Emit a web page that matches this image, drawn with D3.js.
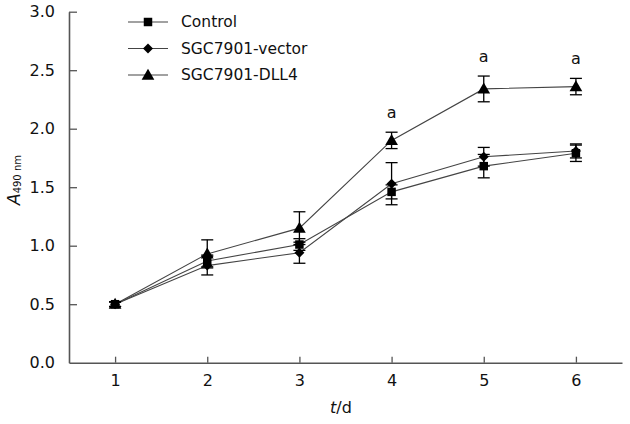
<!DOCTYPE html>
<html>
<head>
<meta charset="utf-8">
<script src="https://cdn.jsdelivr.net/npm/d3@7"></script>
<style>
  html, body { margin: 0; padding: 0; background: #fff; }
  svg { display: block; font-family: "DejaVu Sans", Verdana, sans-serif; }
</style>
</head>
<body>
<div id="chart"></div>
<script>
const days = [1, 2, 3, 4, 5, 6];
const seriesNames = ["Control", "SGC7901-vector", "SGC7901-DLL4"];
const controlMean = [0.50, 0.87, 1.01, 1.46, 1.68, 1.79];
const controlErr  = [0.02, 0.05, 0.05, 0.06, 0.10, 0.07];
const vectorMean  = [0.50, 0.83, 0.94, 1.53, 1.76, 1.81];
const vectorErr   = [0.02, 0.08, 0.09, 0.18, 0.08, 0.06];
const dll4Mean    = [0.50, 0.93, 1.15, 1.90, 2.34, 2.36];
const dll4Err     = [0.02, 0.12, 0.14, 0.07, 0.11, 0.07];
const sigDays = [4, 5, 6];
const yTicks = [0, 0.5, 1.0, 1.5, 2.0, 2.5, 3.0];

const W = 630, H = 424;
const svg = d3.select("#chart").append("svg").attr("width", W).attr("height", H);

const x = d3.scaleLinear().domain([0.5, 6.5]).range([69, 622]);
const y = d3.scaleLinear().domain([0, 3]).range([362.7, 11.7]);

const series = [
  { name: seriesNames[0], mean: controlMean, err: controlErr, sym: d3.symbolSquare, size: 72, rot: 0, dy: 0 },
  { name: seriesNames[1], mean: vectorMean, err: vectorErr, sym: d3.symbolSquare, size: 50, rot: 45, dy: 0 },
  { name: seriesNames[2], mean: dll4Mean, err: dll4Err, sym: d3.symbolTriangle, size: 70, rot: 0, dy: 1 }
];

const axisColor = "#555";

// axes
const xAxis = d3.axisBottom(x).tickValues(days).tickFormat(d3.format("d")).tickSizeInner(-6).tickSizeOuter(0).tickPadding(12);
const gx = svg.append("g").attr("transform", `translate(0,${y(0)})`).call(xAxis);
const yAxis = d3.axisLeft(y).tickValues(yTicks).tickFormat(d3.format(".1f")).tickSizeInner(-8).tickSizeOuter(0).tickPadding(14);
const gy = svg.append("g").attr("transform", `translate(${x(0.5)},0)`).call(yAxis);
[gx, gy].forEach(g => {
  g.select(".domain").attr("stroke", axisColor).attr("stroke-width", 1.6);
  g.selectAll(".tick line").attr("stroke", axisColor).attr("stroke-width", 1.3);
  g.selectAll(".tick text").attr("fill", "#111").style("font-size", "16px").style("font-family", "DejaVu Sans, Verdana, sans-serif");
});
gy.selectAll(".tick").filter(d => d === 0).select("line").remove();
gx.selectAll(".tick text").attr("dy", "0.71em");

// axis titles
const xt = svg.append("text").attr("x", 341).attr("y", 413).attr("text-anchor", "middle")
  .style("font-size", "16px").attr("fill", "#111");
xt.append("tspan").style("font-style", "italic").text("t");
xt.append("tspan").text("/d");

const yt = svg.append("text").attr("transform", "translate(20,180) rotate(-90)").attr("text-anchor", "middle")
  .attr("fill", "#111");
yt.append("tspan").style("font-style", "italic").style("font-size", "17px").text("A");
yt.append("tspan").style("font-size", "10px").attr("dy", "1").text("490 nm");

// lines
const line = d3.line().x((d, i) => x(days[i])).y(d => y(d));
series.forEach(s => {
  svg.append("path").datum(s.mean).attr("d", line)
    .attr("fill", "none").attr("stroke", "#444").attr("stroke-width", 1.1);
});

// error bars and markers
const cap = 6;
series.forEach(s => {
  const g = svg.append("g");
  s.mean.forEach((m, i) => {
    const cx = x(days[i]);
    const top = y(m + s.err[i]), bot = y(m - s.err[i]);
    g.append("line").attr("x1", cx).attr("x2", cx).attr("y1", top).attr("y2", bot).attr("stroke", "#000").attr("stroke-width", 1.3);
    g.append("line").attr("x1", cx - cap).attr("x2", cx + cap).attr("y1", top).attr("y2", top).attr("stroke", "#000").attr("stroke-width", 1.3);
    g.append("line").attr("x1", cx - cap).attr("x2", cx + cap).attr("y1", bot).attr("y2", bot).attr("stroke", "#000").attr("stroke-width", 1.3);
  });
});
series.forEach(s => {
  svg.append("g").selectAll("path").data(s.mean).join("path")
    .attr("transform", (d, i) => `translate(${x(days[i])},${y(d) + s.dy}) rotate(${s.rot})`)
    .attr("d", d3.symbol().type(s.sym).size(s.size))
    .attr("fill", "#000");
});

// significance annotations
sigDays.forEach(dy => {
  const i = days.indexOf(dy);
  svg.append("text").attr("x", x(dy)).attr("y", y(dll4Mean[i] + dll4Err[i]) - 14)
    .attr("text-anchor", "middle").style("font-size", "16px").attr("fill", "#111").text("a");
});

// legend
const legend = svg.append("g");
series.forEach((s, i) => {
  const ly = 22 + i * 26.5;
  legend.append("line").attr("x1", 128).attr("x2", 168).attr("y1", ly).attr("y2", ly)
    .attr("stroke", "#444").attr("stroke-width", 1.1);
  legend.append("path").attr("transform", `translate(148,${ly + s.dy}) rotate(${s.rot})`)
    .attr("d", d3.symbol().type(s.sym).size(s.size)).attr("fill", "#000");
  legend.append("text").attr("x", 181).attr("y", ly).attr("dy", "0.35em")
    .style("font-size", "15.5px").attr("fill", "#111").text(s.name);
});
</script>
</body>
</html>
